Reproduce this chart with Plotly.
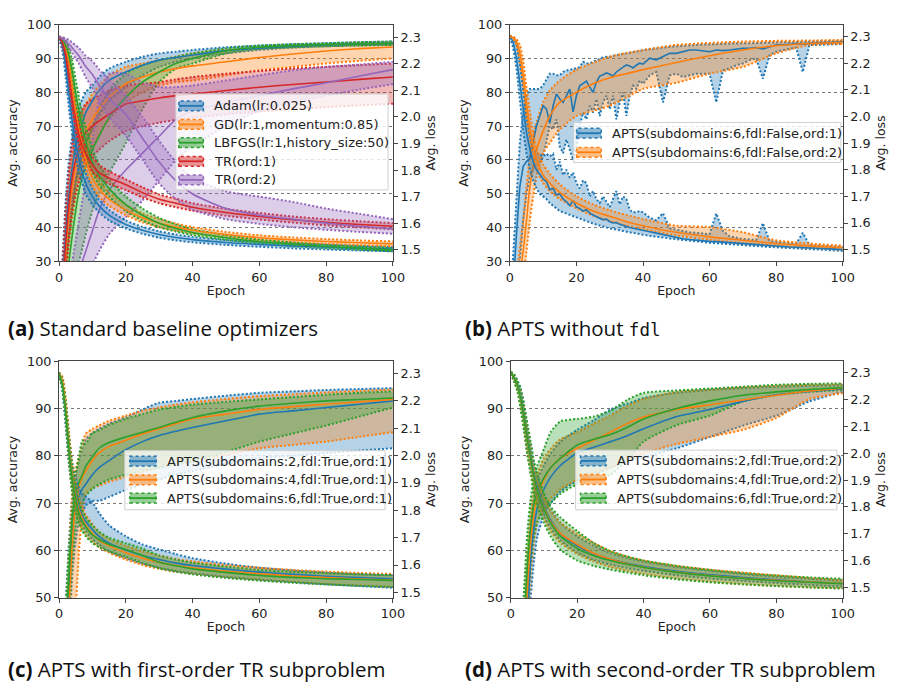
import plotly.graph_objects as go

W, H = 898, 688

# ---------------- data ----------------
EPOCHS = [0, 1, 2, 3, 4, 5, 6, 7, 8, 10, 12, 15, 20, 25, 30, 35, 40, 50, 60, 70, 80, 90, 100]
EPOCHS_DENSE = list(range(0, 41)) + list(range(42, 101, 2))

# (a) standard baseline optimizers
A_LABELS = ["Adam(lr:0.025)", "GD(lr:1,momentum:0.85)", "LBFGS(lr:1,history_size:50)", "TR(ord:1)", "TR(ord:2)"]
A_ADAM_ACC = [10, 22, 38, 50, 58, 64, 68, 71, 74, 77.5, 80.5, 83.5, 86, 88, 89.5, 90.3, 91, 92.3, 93, 93.6, 94, 94.3, 94.5]
A_ADAM_ACC_LO = [5, 15, 28, 40, 48, 54, 58, 62, 65, 69, 73, 77.5, 81.5, 85, 87.5, 89, 90, 91.5, 92.5, 93.2, 93.6, 93.9, 94.1]
A_ADAM_ACC_HI = [15, 30, 48, 60, 67, 72, 75.5, 78, 80, 82, 84.5, 87, 89, 90.5, 91.5, 92, 92.5, 93.3, 93.8, 94.2, 94.5, 94.8, 95]
A_GD_ACC = [10, 18, 32, 44, 52, 58, 62.5, 66, 68.5, 72, 75, 78.5, 82.5, 84.5, 86, 87, 87.8, 89, 90.3, 91.3, 92.2, 92.9, 93.4]
A_GD_ACC_LO = [5, 12, 24, 35, 43, 49, 54, 57.5, 60, 64, 67.5, 72, 77, 80, 82, 83, 83.5, 85, 86.5, 87.5, 88.5, 89.3, 90]
A_GD_ACC_HI = [15, 25, 40, 53, 61, 67, 71, 74, 76.5, 79.5, 82, 85, 87.5, 88.5, 89.5, 90.5, 91.5, 92.5, 93.2, 93.8, 94.2, 94.5, 94.8]
A_LBFGS_ACC = [10, 14, 22, 30, 38, 45, 51, 55, 58, 63, 67, 72.5, 78.5, 83, 86, 88.5, 90, 92.3, 93.3, 93.8, 94.1, 94.3, 94.5]
A_LBFGS_ACC_LO = [2, 5, 10, 15, 20, 25, 30, 34, 38, 45, 50, 56, 65, 75, 83, 87, 88.5, 91.5, 92.8, 93.3, 93.6, 93.8, 94]
A_LBFGS_ACC_HI = [15, 20, 30, 38, 46, 53, 58, 62, 65, 70, 75, 80.5, 85.5, 88, 89.5, 90.5, 91.5, 93, 93.8, 94.2, 94.5, 94.8, 95]
A_TR1_ACC = [10, 20, 35, 47, 55, 60, 63.5, 66, 68, 70, 71.5, 73.5, 76.5, 77.5, 78.3, 79, 79.5, 80.5, 81.5, 82.3, 83, 83.8, 84.5]
A_TR1_ACC_LO = [5, 12, 25, 37, 45, 50, 53.5, 56, 58, 61, 63, 65.5, 68.5, 70, 71, 71.8, 72.5, 73.5, 74.3, 75, 75.6, 76.1, 76.6]
A_TR1_ACC_HI = [15, 28, 45, 57, 65, 70, 73, 75, 76.5, 78, 79, 80.5, 82, 82.5, 83, 83.8, 84.5, 85.5, 86.3, 87, 87.5, 88, 88.5]
A_TR2_ACC = [5, 8, 12, 16, 20, 24, 27, 30, 33, 39, 45, 51, 57, 62, 67, 72, 74.5, 77, 79, 81, 82.8, 84.8, 86.7]
A_TR2_ACC_LO = [2, 4, 7, 10, 13, 16, 19, 22, 25, 29, 33, 38, 43, 48, 54, 60, 64, 70, 74.5, 77, 79, 80.8, 82.4]
A_TR2_ACC_HI = [10, 14, 20, 25, 30, 36, 42, 48, 54, 66, 78, 85.5, 85.5, 83, 81.5, 81.5, 82, 83.5, 85, 86.5, 87.5, 88.2, 89]

A_ADAM_LOSS = [2.30, 2.27, 2.19, 2.08, 1.98, 1.90, 1.84, 1.79, 1.75, 1.70, 1.665, 1.63, 1.595, 1.573, 1.557, 1.546, 1.538, 1.527, 1.52, 1.514, 1.51, 1.505, 1.502]
A_ADAM_LOSS_LO = [2.297, 2.25, 2.15, 2.03, 1.93, 1.85, 1.79, 1.75, 1.71, 1.67, 1.64, 1.61, 1.58, 1.56, 1.545, 1.535, 1.528, 1.518, 1.511, 1.505, 1.501, 1.497, 1.494]
A_ADAM_LOSS_HI = [2.303, 2.29, 2.23, 2.13, 2.03, 1.95, 1.89, 1.83, 1.79, 1.73, 1.69, 1.65, 1.61, 1.586, 1.569, 1.557, 1.548, 1.536, 1.529, 1.523, 1.519, 1.514, 1.51]
A_GD_LOSS = [2.30, 2.29, 2.26, 2.20, 2.11, 2.02, 1.95, 1.89, 1.84, 1.77, 1.73, 1.69, 1.65, 1.62, 1.60, 1.585, 1.573, 1.557, 1.545, 1.537, 1.531, 1.526, 1.522]
A_GD_LOSS_LO = [2.298, 2.28, 2.23, 2.16, 2.06, 1.97, 1.90, 1.845, 1.80, 1.74, 1.70, 1.665, 1.63, 1.603, 1.585, 1.572, 1.562, 1.547, 1.536, 1.528, 1.522, 1.517, 1.513]
A_GD_LOSS_HI = [2.302, 2.30, 2.28, 2.24, 2.16, 2.07, 2.00, 1.93, 1.88, 1.80, 1.76, 1.715, 1.67, 1.637, 1.615, 1.598, 1.585, 1.567, 1.554, 1.546, 1.54, 1.535, 1.531]
A_LBFGS_LOSS = [2.30, 2.29, 2.27, 2.23, 2.17, 2.09, 2.02, 1.96, 1.91, 1.83, 1.78, 1.73, 1.67, 1.63, 1.60, 1.58, 1.565, 1.545, 1.53, 1.52, 1.512, 1.506, 1.50]
A_LBFGS_LOSS_LO = [2.298, 2.28, 2.25, 2.20, 2.13, 2.05, 1.98, 1.92, 1.87, 1.79, 1.745, 1.70, 1.645, 1.61, 1.585, 1.568, 1.555, 1.537, 1.523, 1.513, 1.506, 1.5, 1.494]
A_LBFGS_LOSS_HI = [2.302, 2.30, 2.29, 2.26, 2.21, 2.14, 2.07, 2.01, 1.96, 1.88, 1.82, 1.765, 1.70, 1.655, 1.62, 1.595, 1.577, 1.555, 1.538, 1.527, 1.518, 1.512, 1.506]
A_TR1_LOSS = [2.30, 2.28, 2.23, 2.15, 2.06, 1.99, 1.93, 1.89, 1.86, 1.82, 1.79, 1.77, 1.745, 1.715, 1.69, 1.675, 1.66, 1.64, 1.625, 1.613, 1.603, 1.595, 1.588]
A_TR1_LOSS_LO = [2.298, 2.26, 2.20, 2.11, 2.02, 1.95, 1.90, 1.86, 1.83, 1.795, 1.77, 1.748, 1.725, 1.697, 1.675, 1.66, 1.647, 1.628, 1.614, 1.602, 1.592, 1.584, 1.577]
A_TR1_LOSS_HI = [2.302, 2.30, 2.26, 2.19, 2.10, 2.03, 1.97, 1.92, 1.89, 1.85, 1.82, 1.795, 1.765, 1.735, 1.708, 1.692, 1.675, 1.654, 1.638, 1.625, 1.615, 1.607, 1.60]
A_TR2_LOSS = [2.30, 2.295, 2.285, 2.275, 2.26, 2.245, 2.23, 2.21, 2.19, 2.16, 2.12, 2.07, 2.01, 1.92, 1.83, 1.76, 1.71, 1.655, 1.63, 1.615, 1.60, 1.588, 1.578]
A_TR2_LOSS_LO = [2.298, 2.29, 2.275, 2.26, 2.24, 2.22, 2.20, 2.175, 2.15, 2.11, 2.06, 2.0, 1.93, 1.84, 1.75, 1.69, 1.65, 1.615, 1.597, 1.585, 1.575, 1.567, 1.56]
A_TR2_LOSS_HI = [2.302, 2.30, 2.295, 2.29, 2.28, 2.27, 2.26, 2.245, 2.23, 2.21, 2.18, 2.14, 2.08, 2.0, 1.91, 1.83, 1.77, 1.72, 1.70, 1.68, 1.655, 1.635, 1.615]

# (b) APTS without fdl
B_LABELS = ["APTS(subdomains:6,fdl:False,ord:1)", "APTS(subdomains:6,fdl:False,ord:2)"]
B_ORD1_ACC = [10, 22, 38, 52, 58, 59.5, 60.5, 65, 70, 73, 76, 75, 70.8, 76, 79.5, 78, 77, 79, 80.9, 74.2, 79,
              81.9, 82.5, 83.3, 81.5, 80, 83, 84.8, 85.2, 85.7, 85.3, 84.8, 86, 86.7, 87.5, 88.1, 87.8, 87.2, 88, 88.6, 88.3,
              90.1, 89.6, 90.5, 91.5, 91.5, 92, 92.5, 92.5, 92.3, 92, 92.5, 92.3, 92.5, 92.8, 93, 93, 93.2, 92.8, 93.5,
              94, 94, 94.2, 94.3, 94.3, 94.4, 94.5, 94.6, 94.7, 94.8, 94.9]
B_ORD1_ACC_LO = [5, 12, 20, 30, 42, 50, 55, 57, 58, 59, 61, 66, 70, 69, 72, 64, 62, 66, 63, 60, 64,
                 70, 74, 72, 76, 74, 78, 73, 77, 79, 75, 79, 72, 77, 80, 73, 79, 82, 81, 83.5, 82.5,
                 85, 86, 77, 85, 85.5, 84.5, 85, 85.5, 85.5, 85.5, 77, 86.5, 87, 88, 88.5, 89.5, 90, 84, 91,
                 92, 92.5, 92.8, 93.2, 86, 94, 94, 94.1, 94.2, 94.2, 94.3]
B_ORD1_ACC_HI = [15, 32, 50, 65, 74, 79, 81, 81, 81, 81, 82, 84, 85.5, 85.5, 85, 85, 86, 86.5, 86.5, 87, 87,
                 87.5, 89, 88.5, 88.5, 89, 89.5, 90, 90.3, 90.5, 90.5, 90.8, 91, 91.2, 91.4, 91.5, 91.7, 91.8, 92, 92.2, 92.4,
                 92.7, 93, 93.2, 93.4, 93.6, 93.8, 93.9, 94, 94.1, 94.2, 94.2, 94.3, 94.4, 94.4, 94.5, 94.5, 94.6, 94.6, 94.7,
                 94.7, 94.8, 94.8, 94.9, 94.9, 95, 95, 95.1, 95.1, 95.2, 95.2]
B_ORD1_LOSS = [2.30, 2.28, 2.22, 2.12, 2.02, 1.94, 1.88, 1.83, 1.80, 1.78, 1.765, 1.755, 1.725, 1.73, 1.705, 1.71, 1.69, 1.68, 1.665, 1.685, 1.66,
               1.655, 1.645, 1.65, 1.637, 1.63, 1.625, 1.62, 1.612, 1.615, 1.605, 1.60, 1.602, 1.595, 1.59, 1.588, 1.583, 1.58, 1.577, 1.575, 1.572,
               1.567, 1.562, 1.557, 1.55, 1.545, 1.541, 1.538, 1.535, 1.533, 1.531, 1.53, 1.528, 1.526, 1.525, 1.523, 1.521, 1.519, 1.518, 1.516,
               1.514, 1.512, 1.51, 1.509, 1.507, 1.506, 1.505, 1.504, 1.503, 1.502, 1.50]
B_ORD1_LOSS_LO = [2.297, 2.26, 2.18, 2.06, 1.95, 1.86, 1.80, 1.76, 1.73, 1.71, 1.70, 1.69, 1.675, 1.665, 1.655, 1.645, 1.64, 1.635, 1.63, 1.625, 1.62,
                  1.615, 1.61, 1.606, 1.602, 1.598, 1.594, 1.59, 1.587, 1.584, 1.58, 1.578, 1.575, 1.572, 1.57, 1.567, 1.565, 1.563, 1.56, 1.558, 1.556,
                  1.552, 1.548, 1.545, 1.542, 1.539, 1.536, 1.533, 1.53, 1.528, 1.526, 1.524, 1.522, 1.52, 1.518, 1.516, 1.515, 1.513, 1.512, 1.51,
                  1.509, 1.507, 1.506, 1.505, 1.503, 1.502, 1.5, 1.499, 1.498, 1.497, 1.495]
B_ORD1_LOSS_HI = [2.303, 2.30, 2.27, 2.20, 2.10, 2.0, 1.93, 1.88, 1.86, 1.86, 1.85, 1.86, 1.85, 1.86, 1.80, 1.83, 1.78, 1.80, 1.77, 1.79, 1.75,
                  1.73, 1.76, 1.75, 1.70, 1.72, 1.69, 1.675, 1.70, 1.68, 1.66, 1.69, 1.72, 1.67, 1.70, 1.69, 1.65, 1.64, 1.64, 1.645, 1.64,
                  1.62, 1.61, 1.637, 1.58, 1.575, 1.57, 1.565, 1.563, 1.56, 1.558, 1.636, 1.57, 1.55, 1.545, 1.54, 1.538, 1.536, 1.60, 1.532,
                  1.53, 1.527, 1.525, 1.522, 1.563, 1.517, 1.515, 1.513, 1.512, 1.511, 1.51]
B_ORD2_ACC = [5, 10, 18, 26, 33, 42, 52, 58, 63, 68.5, 73, 77, 80, 82.5, 84.3, 85.5, 86.7, 88.8, 90.8, 92.5, 93.8, 94.4, 94.8]
B_ORD2_ACC_LO = [2, 5, 12, 18, 25, 33, 42, 49, 55, 62, 65, 69, 73, 74.5, 76, 78.5, 81, 82.8, 85.5, 87.5, 91.5, 94, 94.3]
B_ORD2_ACC_HI = [8, 15, 25, 34, 42, 52, 61, 67, 71, 77, 80.5, 83.5, 86.7, 88.7, 90.5, 91.6, 92.5, 94, 94.6, 95, 95.2, 95.3, 95.5]
B_ORD2_LOSS = [2.30, 2.295, 2.28, 2.24, 2.16, 2.05, 1.96, 1.89, 1.84, 1.78, 1.75, 1.715, 1.675, 1.645, 1.625, 1.605, 1.59, 1.565, 1.548, 1.535, 1.523, 1.514, 1.507]
B_ORD2_LOSS_LO = [2.298, 2.29, 2.27, 2.21, 2.12, 2.0, 1.91, 1.85, 1.80, 1.75, 1.72, 1.69, 1.655, 1.627, 1.607, 1.59, 1.577, 1.553, 1.537, 1.525, 1.515, 1.507, 1.50]
B_ORD2_LOSS_HI = [2.302, 2.30, 2.29, 2.27, 2.21, 2.11, 2.02, 1.94, 1.88, 1.82, 1.785, 1.745, 1.70, 1.67, 1.648, 1.63, 1.615, 1.59, 1.585, 1.565, 1.535, 1.523, 1.515]

# (c) APTS with first-order TR subproblem
C_LABELS = ["APTS(subdomains:2,fdl:True,ord:1)", "APTS(subdomains:4,fdl:True,ord:1)", "APTS(subdomains:6,fdl:True,ord:1)"]
C_S2_ACC = [10, 20, 38, 52, 64, 69.5, 71.5, 73, 74, 76, 77.5, 79, 81.3, 83, 84.3, 85.2, 86, 87.4, 88.8, 89.5, 90.2, 90.9, 91.6]
C_S2_ACC_LO = [5, 12, 28, 42, 55, 62, 66, 68, 69.5, 70.5, 70.5, 71.3, 72.8, 74, 75, 76, 76.8, 78.3, 79.5, 80, 80.6, 81.1, 81.6]
C_S2_ACC_HI = [15, 28, 48, 62, 72, 76, 79, 81.5, 83.5, 84.8, 85.7, 86.8, 88.1, 89.8, 91.2, 91.6, 92, 92.7, 93.3, 93.6, 93.9, 94.1, 94.3]
C_S4_ACC = [10, 18, 35, 48, 62, 70, 73.5, 75.5, 76.8, 79, 80.6, 82, 83.3, 84.6, 85.7, 86.8, 87.8, 88.8, 89.8, 90.4, 90.9, 91.4, 91.9]
C_S4_ACC_LO = [5, 10, 25, 36, 42, 48, 60, 68, 72, 73.2, 73.7, 74.5, 75.5, 76.5, 77.5, 78.2, 78.8, 80.2, 81.6, 82.3, 83, 84, 85]
C_S4_ACC_HI = [15, 26, 45, 60, 72, 77, 80, 82.5, 84.7, 85.7, 86.4, 87.4, 88.5, 89.5, 90.2, 90.8, 91.3, 92, 92.6, 93, 93.4, 93.7, 94]
C_S6_ACC = [10, 22, 40, 55, 67, 72, 74.5, 76, 77.8, 79.8, 81.6, 82.8, 84, 85, 86, 87.1, 88.1, 89.5, 90.5, 91.1, 91.6, 91.9, 92.2]
C_S6_ACC_LO = [5, 15, 32, 46, 58, 65, 68, 70, 71.5, 73, 74, 75, 76, 76.8, 77.5, 78.2, 78.8, 80.8, 83, 84.7, 86.4, 88.3, 90.2]
C_S6_ACC_HI = [15, 30, 48, 60, 69, 76, 80, 83.3, 82.5, 84.8, 85.4, 86.5, 87.8, 88.8, 89.8, 90.3, 90.8, 91.4, 91.9, 92.4, 92.9, 93.3, 93.6]
C_S2_LOSS = [2.30, 2.26, 2.15, 2.02, 1.92, 1.86, 1.81, 1.78, 1.76, 1.73, 1.705, 1.68, 1.655, 1.635, 1.62, 1.607, 1.598, 1.585, 1.574, 1.566, 1.559, 1.554, 1.55]
C_S2_LOSS_LO = [2.297, 2.24, 2.11, 1.97, 1.87, 1.81, 1.77, 1.745, 1.725, 1.695, 1.675, 1.65, 1.625, 1.605, 1.59, 1.578, 1.57, 1.557, 1.547, 1.538, 1.53, 1.523, 1.517]
C_S2_LOSS_HI = [2.303, 2.28, 2.19, 2.07, 1.97, 1.92, 1.88, 1.86, 1.85, 1.83, 1.79, 1.745, 1.705, 1.675, 1.657, 1.64, 1.625, 1.605, 1.59, 1.58, 1.572, 1.566, 1.562]
C_S4_LOSS = [2.30, 2.27, 2.17, 2.03, 1.92, 1.85, 1.80, 1.77, 1.745, 1.715, 1.69, 1.67, 1.645, 1.625, 1.61, 1.598, 1.59, 1.577, 1.568, 1.56, 1.554, 1.549, 1.545]
C_S4_LOSS_LO = [2.297, 2.25, 2.13, 1.98, 1.87, 1.80, 1.76, 1.735, 1.71, 1.685, 1.665, 1.645, 1.62, 1.6, 1.586, 1.575, 1.567, 1.554, 1.545, 1.537, 1.53, 1.525, 1.52]
C_S4_LOSS_HI = [2.303, 2.29, 2.21, 2.08, 1.97, 1.90, 1.845, 1.81, 1.785, 1.75, 1.72, 1.695, 1.67, 1.65, 1.635, 1.622, 1.613, 1.6, 1.59, 1.582, 1.576, 1.571, 1.567]
C_S6_LOSS = [2.30, 2.26, 2.16, 2.02, 1.91, 1.84, 1.79, 1.76, 1.74, 1.71, 1.693, 1.675, 1.657, 1.635, 1.61, 1.597, 1.586, 1.573, 1.562, 1.555, 1.55, 1.547, 1.544]
C_S6_LOSS_LO = [2.297, 2.24, 2.12, 1.97, 1.86, 1.79, 1.75, 1.725, 1.705, 1.68, 1.665, 1.65, 1.63, 1.608, 1.588, 1.576, 1.566, 1.553, 1.543, 1.535, 1.529, 1.524, 1.52]
C_S6_LOSS_HI = [2.303, 2.28, 2.20, 2.07, 1.96, 1.89, 1.83, 1.80, 1.775, 1.745, 1.722, 1.70, 1.68, 1.66, 1.635, 1.62, 1.608, 1.594, 1.582, 1.575, 1.57, 1.566, 1.563]

# (d) APTS with second-order TR subproblem
D_LABELS = ["APTS(subdomains:2,fdl:True,ord:2)", "APTS(subdomains:4,fdl:True,ord:2)", "APTS(subdomains:6,fdl:True,ord:2)"]
D_S2_ACC = [5, 8, 12, 20, 30, 45, 58, 65, 69, 73, 75.5, 78, 80.6, 81.8, 83, 84.2, 85.7, 88.3, 89.8, 91.5, 92.9, 93.6, 94.1]
D_S2_ACC_LO = [2, 4, 8, 14, 22, 35, 50, 58, 63, 67.5, 70, 72.5, 74.7, 76, 77.5, 78.8, 79.8, 81.6, 84, 86.4, 88.5, 91.5, 93.5]
D_S2_ACC_HI = [8, 12, 18, 28, 40, 55, 66, 71.5, 75, 78, 80.5, 83, 85.5, 87.5, 89.8, 91, 92.2, 93.3, 93.9, 94.3, 94.6, 94.8, 94.9]
D_S4_ACC = [5, 10, 16, 25, 38, 52, 62, 68, 71.5, 75, 77.5, 79.5, 81.6, 83.3, 85, 86.8, 88.2, 89.8, 90.8, 91.8, 92.8, 93.7, 94.3]
D_S4_ACC_LO = [2, 6, 11, 18, 30, 44, 55, 62, 66, 69, 71, 73, 75, 76.5, 77.5, 79, 80.5, 82.5, 84, 85.5, 88, 92, 93.2]
D_S4_ACC_HI = [8, 14, 22, 33, 46, 59, 68, 73, 76, 79.5, 81.5, 83.5, 85, 86.8, 88.5, 90.5, 92, 93.5, 94, 94.5, 94.8, 95, 95.1]
D_S6_ACC = [5, 12, 20, 30, 44, 57, 65, 70, 72.5, 75.4, 77.5, 79.5, 82.3, 83.5, 84.5, 86, 87.8, 90, 91.6, 92.8, 93.5, 94, 94.4]
D_S6_ACC_LO = [2, 8, 14, 22, 35, 48, 57, 63, 66, 68.5, 70, 72, 74, 75, 76, 79, 83, 86.5, 88.5, 91.5, 92.8, 93.5, 93.9]
D_S6_ACC_HI = [8, 16, 26, 38, 52, 64, 71, 75.5, 78, 81.5, 85, 87.3, 87.8, 88.3, 89.5, 91.8, 93.3, 93.8, 94.2, 94.6, 95, 95.2, 95.3]
D_S2_LOSS = [2.30, 2.28, 2.255, 2.21, 2.14, 2.06, 1.99, 1.92, 1.87, 1.80, 1.75, 1.70, 1.655, 1.625, 1.605, 1.59, 1.578, 1.56, 1.547, 1.537, 1.528, 1.52, 1.515]
D_S2_LOSS_LO = [2.297, 2.27, 2.24, 2.18, 2.10, 2.01, 1.94, 1.88, 1.83, 1.765, 1.72, 1.675, 1.63, 1.603, 1.585, 1.572, 1.562, 1.545, 1.533, 1.524, 1.516, 1.509, 1.503]
D_S2_LOSS_HI = [2.303, 2.29, 2.27, 2.24, 2.18, 2.10, 2.03, 1.96, 1.91, 1.84, 1.79, 1.74, 1.69, 1.655, 1.628, 1.61, 1.596, 1.576, 1.562, 1.55, 1.54, 1.532, 1.526]
D_S4_LOSS = [2.30, 2.28, 2.25, 2.20, 2.13, 2.05, 1.98, 1.91, 1.86, 1.795, 1.745, 1.70, 1.66, 1.627, 1.605, 1.588, 1.575, 1.557, 1.544, 1.534, 1.526, 1.52, 1.515]
D_S4_LOSS_LO = [2.297, 2.27, 2.235, 2.17, 2.09, 2.0, 1.93, 1.865, 1.815, 1.755, 1.71, 1.665, 1.625, 1.596, 1.576, 1.562, 1.55, 1.533, 1.521, 1.512, 1.505, 1.5, 1.496]
D_S4_LOSS_HI = [2.303, 2.29, 2.265, 2.23, 2.17, 2.09, 2.02, 1.95, 1.90, 1.835, 1.785, 1.74, 1.70, 1.665, 1.635, 1.615, 1.6, 1.58, 1.566, 1.555, 1.545, 1.535, 1.527]
D_S6_LOSS = [2.30, 2.28, 2.25, 2.20, 2.13, 2.05, 1.98, 1.91, 1.86, 1.79, 1.74, 1.69, 1.645, 1.618, 1.6, 1.586, 1.574, 1.556, 1.543, 1.533, 1.525, 1.519, 1.514]
D_S6_LOSS_LO = [2.297, 2.265, 2.23, 2.16, 2.08, 1.99, 1.92, 1.85, 1.80, 1.74, 1.69, 1.64, 1.6, 1.58, 1.566, 1.555, 1.545, 1.53, 1.519, 1.511, 1.505, 1.5, 1.496]
D_S6_LOSS_HI = [2.303, 2.295, 2.27, 2.24, 2.18, 2.11, 2.04, 1.97, 1.92, 1.85, 1.80, 1.76, 1.71, 1.665, 1.635, 1.615, 1.6, 1.58, 1.565, 1.553, 1.544, 1.537, 1.532]

CAPTIONS = [
    "<b>(a)</b> Standard baseline optimizers",
    "<b>(b)</b> APTS without <span style=\"font-family:'DejaVu Sans Mono';font-size:17.5px\">fdl</span>",
    "<b>(c)</b> APTS with first-order TR subproblem",
    "<b>(d)</b> APTS with second-order TR subproblem",
]

LEFT_TICKS_A = [30, 40, 50, 60, 70, 80, 90, 100]
LEFT_TICKS_C = [50, 60, 70, 80, 90, 100]
RIGHT_TICKS = [1.5, 1.6, 1.7, 1.8, 1.9, 2.0, 2.1, 2.2, 2.3]
X_TICKS = [0, 20, 40, 60, 80, 100]

BLUE, ORANGE, GREEN, RED, PURPLE = "#1f77b4", "#ff7f0e", "#2ca02c", "#d62728", "#9467bd"

# ---------------- styling helpers ----------------
FONT = "DejaVu Sans"
TXT = "#222222"
DOT = "2px,2px"


def rgba(hx, a):
    hx = hx.lstrip("#")
    r, g, b = int(hx[0:2], 16), int(hx[2:4], 16), int(hx[4:6], 16)
    return f"rgba({r},{g},{b},{a})"


def px_x(p):
    return p / W


def px_y(p):
    return 1 - p / H


fig = go.Figure()


def line_style(color, width, shape, dash=None):
    d = dict(color=color, width=width, shape=shape)
    if shape == "spline":
        d["smoothing"] = 0.6
    if dash:
        d["dash"] = dash
    return d


def add_axis_series(series, xa, ya):
    """series: list of (x, mean, lo, hi, color, shape). Bands (fill + dotted edges) first,
    mean lines on top, as matplotlib does with collections below lines."""
    for x, mean, lo, hi, color, shape in series:
        assert len(x) == len(mean) == len(lo) == len(hi), (len(x), len(mean), len(lo), len(hi))
        common = dict(x=x, xaxis=xa, yaxis=ya, mode="lines", showlegend=False, hoverinfo="skip")
        fig.add_trace(go.Scatter(y=lo, line=line_style(color, 2, shape, DOT), **common))
        fig.add_trace(go.Scatter(y=hi, fill="tonexty", fillcolor=rgba(color, 0.33),
                                 line=line_style(color, 2, shape, DOT), **common))
    for x, mean, lo, hi, color, shape in series:
        fig.add_trace(go.Scatter(x=x, y=mean, xaxis=xa, yaxis=ya, mode="lines", showlegend=False,
                                 hoverinfo="skip", line=line_style(color, 1.6, shape)))


# panel (a)
A_SERIES = [
    (BLUE, A_ADAM_ACC, A_ADAM_ACC_LO, A_ADAM_ACC_HI, A_ADAM_LOSS, A_ADAM_LOSS_LO, A_ADAM_LOSS_HI),
    (ORANGE, A_GD_ACC, A_GD_ACC_LO, A_GD_ACC_HI, A_GD_LOSS, A_GD_LOSS_LO, A_GD_LOSS_HI),
    (GREEN, A_LBFGS_ACC, A_LBFGS_ACC_LO, A_LBFGS_ACC_HI, A_LBFGS_LOSS, A_LBFGS_LOSS_LO, A_LBFGS_LOSS_HI),
    (RED, A_TR1_ACC, A_TR1_ACC_LO, A_TR1_ACC_HI, A_TR1_LOSS, A_TR1_LOSS_LO, A_TR1_LOSS_HI),
    (PURPLE, A_TR2_ACC, A_TR2_ACC_LO, A_TR2_ACC_HI, A_TR2_LOSS, A_TR2_LOSS_LO, A_TR2_LOSS_HI),
]
add_axis_series([(EPOCHS, s[1], s[2], s[3], s[0], "spline") for s in A_SERIES], "x", "y")
add_axis_series([(EPOCHS, s[4], s[5], s[6], s[0], "spline") for s in A_SERIES], "x", "y2")

# panel (b)
add_axis_series([
    (EPOCHS_DENSE, B_ORD1_ACC, B_ORD1_ACC_LO, B_ORD1_ACC_HI, BLUE, "linear"),
    (EPOCHS, B_ORD2_ACC, B_ORD2_ACC_LO, B_ORD2_ACC_HI, ORANGE, "spline"),
], "x2", "y3")
add_axis_series([
    (EPOCHS_DENSE, B_ORD1_LOSS, B_ORD1_LOSS_LO, B_ORD1_LOSS_HI, BLUE, "linear"),
    (EPOCHS, B_ORD2_LOSS, B_ORD2_LOSS_LO, B_ORD2_LOSS_HI, ORANGE, "spline"),
], "x2", "y4")

# panel (c)
C_SERIES = [
    (BLUE, C_S2_ACC, C_S2_ACC_LO, C_S2_ACC_HI, C_S2_LOSS, C_S2_LOSS_LO, C_S2_LOSS_HI),
    (ORANGE, C_S4_ACC, C_S4_ACC_LO, C_S4_ACC_HI, C_S4_LOSS, C_S4_LOSS_LO, C_S4_LOSS_HI),
    (GREEN, C_S6_ACC, C_S6_ACC_LO, C_S6_ACC_HI, C_S6_LOSS, C_S6_LOSS_LO, C_S6_LOSS_HI),
]
add_axis_series([(EPOCHS, s[1], s[2], s[3], s[0], "spline") for s in C_SERIES], "x3", "y5")
add_axis_series([(EPOCHS, s[4], s[5], s[6], s[0], "spline") for s in C_SERIES], "x3", "y6")

# panel (d)
D_SERIES = [
    (BLUE, D_S2_ACC, D_S2_ACC_LO, D_S2_ACC_HI, D_S2_LOSS, D_S2_LOSS_LO, D_S2_LOSS_HI),
    (ORANGE, D_S4_ACC, D_S4_ACC_LO, D_S4_ACC_HI, D_S4_LOSS, D_S4_LOSS_LO, D_S4_LOSS_HI),
    (GREEN, D_S6_ACC, D_S6_ACC_LO, D_S6_ACC_HI, D_S6_LOSS, D_S6_LOSS_LO, D_S6_LOSS_HI),
]
add_axis_series([(EPOCHS, s[1], s[2], s[3], s[0], "spline") for s in D_SERIES], "x4", "y7")
add_axis_series([(EPOCHS, s[4], s[5], s[6], s[0], "spline") for s in D_SERIES], "x4", "y8")

# ---------------- axes ----------------
PANELS = [
    dict(xp=(56, 396), yp=(17, 259), yl=(30, 100), lt=LEFT_TICKS_A, yr=(1.456, 2.348)),
    dict(xp=(515, 854), yp=(17, 259), yl=(30, 100), lt=LEFT_TICKS_A, yr=(1.456, 2.345)),
    dict(xp=(56, 396), yp=(361, 603), yl=(50, 100), lt=LEFT_TICKS_C, yr=(1.48, 2.345)),
    dict(xp=(516, 854), yp=(361, 603), yl=(50, 100), lt=LEFT_TICKS_C, yr=(1.461, 2.343)),
]
tickfont = dict(family=FONT, size=12.8, color=TXT)
titlefont = dict(family=FONT, size=12.5, color=TXT)
layout = {}
for i, p in enumerate(PANELS):
    xi = "" if i == 0 else str(i + 1)
    yl_i = "" if i == 0 else str(2 * i + 1)
    yr_i = str(2 * i + 2)
    xdom = [px_x(p["xp"][0]), px_x(p["xp"][1])]
    ydom = [px_y(p["yp"][1]), px_y(p["yp"][0])]
    layout["xaxis" + xi] = dict(
        domain=xdom, anchor="y" + yl_i, range=[0, 100], tickvals=X_TICKS,
        showgrid=False, zeroline=False, showline=True, mirror=True, linecolor="#444", linewidth=1,
        ticks="outside", ticklen=4, tickcolor="#444", tickfont=tickfont,
        title=dict(text="Epoch", font=titlefont, standoff=2),
    )
    layout["yaxis" + yl_i] = dict(
        domain=ydom, anchor="x" + xi, range=list(p["yl"]), tickvals=p["lt"],
        showgrid=True, gridcolor="#777", gridwidth=0.7, griddash="dot", zeroline=False,
        showline=True, mirror=True, linecolor="#444", linewidth=1,
        ticks="outside", ticklen=4, tickcolor="#444", tickfont=tickfont,
        title=dict(text="Avg. accuracy", font=titlefont, standoff=6),
    )
    layout["yaxis" + yr_i] = dict(
        overlaying="y" + yl_i, anchor="x" + xi, side="right", range=list(p["yr"]),
        tickvals=RIGHT_TICKS, tickformat=".1f", showgrid=False, zeroline=False,
        showline=True, linecolor="#444", linewidth=1,
        ticks="outside", ticklen=4, tickcolor="#444", tickfont=tickfont,
        title=dict(text="Avg. loss", font=titlefont, standoff=6),
    )

# ---------------- legends (drawn as boxes in paper space) ----------------
LEGENDS = [
    dict(box=(175, 88, 391, 186), rows=[100, 119, 137.7, 156.7, 175.7], patch=(178, 203), tx=212,
         labels=A_LABELS, colors=[BLUE, ORANGE, GREEN, RED, PURPLE]),
    dict(box=(580, 117, 852, 158), rows=[128, 147.5], patch=(583, 608), tx=617,
         labels=B_LABELS, colors=[BLUE, ORANGE]),
    dict(box=(123, 452.5, 388, 513), rows=[463.3, 482.3, 501], patch=(128, 155), tx=164,
         labels=C_LABELS, colors=[BLUE, ORANGE, GREEN]),
    dict(box=(582, 452, 848, 513), rows=[463, 482, 501], patch=(587, 613), tx=622,
         labels=D_LABELS, colors=[BLUE, ORANGE, GREEN]),
]
shapes = []
annotations = []
for lg in LEGENDS:
    x0, y0, x1, y1 = lg["box"]
    shapes.append(dict(type="rect", xref="paper", yref="paper", layer="above",
                       x0=px_x(x0), x1=px_x(x1), y0=px_y(y1), y1=px_y(y0),
                       fillcolor="rgba(255,255,255,0.8)", line=dict(color="#d0d0d0", width=1)))
    for ry, lab, col in zip(lg["rows"], lg["labels"], lg["colors"]):
        shapes.append(dict(type="rect", xref="paper", yref="paper", layer="above",
                           x0=px_x(lg["patch"][0]), x1=px_x(lg["patch"][1]),
                           y0=px_y(ry + 5), y1=px_y(ry - 5),
                           fillcolor=rgba(col, 0.5), line=dict(color=col, width=1.5, dash="dot")))
        shapes.append(dict(type="line", xref="paper", yref="paper", layer="above",
                           x0=px_x(lg["patch"][0]), x1=px_x(lg["patch"][1]),
                           y0=px_y(ry), y1=px_y(ry), line=dict(color=col, width=1.8)))
        annotations.append(dict(text=lab, xref="paper", yref="paper", x=px_x(lg["tx"]), y=px_y(ry),
                                xanchor="left", yanchor="middle", showarrow=False,
                                font=dict(family=FONT, size=13, color=TXT)))

CAPTION_POS = [(2, 327), (467, 327), (2, 676), (467, 676)]
for (cx, cy), txt in zip(CAPTION_POS, CAPTIONS):
    annotations.append(dict(text=txt, xref="paper", yref="paper", x=px_x(cx), y=px_y(cy),
                            xanchor="left", yanchor="middle", showarrow=False,
                            font=dict(family="Open Sans", size=20.5, color="#111")))

fig.update_layout(
    width=W, height=H, margin=dict(l=0, r=0, t=0, b=0),
    paper_bgcolor="white", plot_bgcolor="white", showlegend=False,
    shapes=shapes, annotations=annotations, **layout,
)

fig.write_html("out.html")
